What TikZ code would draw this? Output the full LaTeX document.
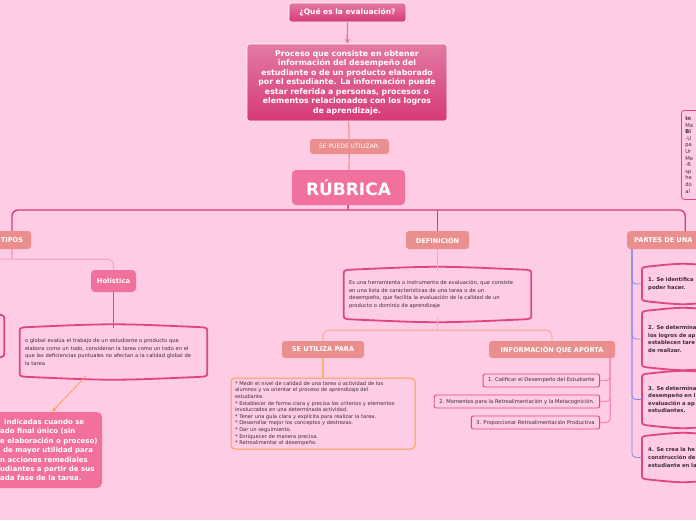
\documentclass[tikz,border=0pt]{standalone}
\usepackage{fontspec}
\setmainfont{DejaVu Sans}
\usetikzlibrary{arrows.meta,calc,positioning}

\definecolor{bgpink}{HTML}{FFCCE6}
\definecolor{hotpink}{HTML}{F2709E}
\definecolor{salmon}{HTML}{EA8E8E}
\definecolor{magline}{HTML}{E0457E}
\definecolor{darkmag}{HTML}{D63A78}
\definecolor{lightline}{HTML}{F4A6C6}
\definecolor{peach}{HTML}{F7AE9A}
\definecolor{orangeline}{HTML}{F5A24A}
\definecolor{blueline}{HTML}{7C86F2}
\definecolor{bodytext}{HTML}{3A2C36}

% frame with curved top and bottom round a node
\newcommand{\bulgeframe}[1]{%
  \draw[bulge] ($(#1.north west)+(0,4)$) .. controls (#1.north west) .. ($(#1.north west)+(4,-1)$)
    .. controls ($(#1.north)+(0,-5)$) .. ($(#1.north east)+(-4,-1)$)
    .. controls (#1.north east) .. ($(#1.north east)+(0,4)$)
    -- ($(#1.south east)+(0,-4)$)
    .. controls (#1.south east) .. ($(#1.south east)+(-4,1)$)
    .. controls ($(#1.south)+(0,5)$) .. ($(#1.south west)+(4,1)$)
    .. controls (#1.south west) .. ($(#1.south west)+(0,-4)$) -- cycle;}

\begin{document}
\begin{tikzpicture}[x=1pt,y=-1pt,
  lbl/.style={fill=salmon,rounded corners=3pt,text=white,inner sep=0pt,
    font=\bfseries\fontsize{6.6}{8}\selectfont},
  pinkbox/.style={fill=hotpink,rounded corners=4pt,text=white,inner sep=0pt},
  darkbox/.style={draw=white,line width=0.6pt,rounded corners=2.5pt,inner sep=0pt,
    top color=darkmag!68!white,bottom color=darkmag,text=white},
  bulgetxt/.style={text=bodytext,align=left,inner sep=0pt,
    font=\fontsize{5.2}{7.5}\selectfont},
  bulge/.style={draw=magline,line width=1.8pt,line join=round},
  itembox/.style={draw=magline,line width=0.9pt,rounded corners=2pt,text=bodytext,
    inner xsep=5pt,inner ysep=0pt,minimum height=13,font=\fontsize{5.2}{6}\selectfont},
  mainline/.style={darkmag,line width=1.4pt},
  thinline/.style={line width=1.1pt}]

\useasboundingbox (0,0) rectangle (696,520);
\fill[bgpink] (0,0) rectangle (696,520);
\clip (0,0) rectangle (696,520);

% top of the map
\node[darkbox,minimum width=117,minimum height=19,font=\bfseries\fontsize{7.5}{9}\selectfont]
  (q) at (347.5,12.5) {¿Qué es la evaluación?};
\node[darkbox,minimum width=200,minimum height=77,text width=194,align=center,
  font=\bfseries\fontsize{7.8}{9.5}\selectfont]
  (proc) at (347,82.5) {Proceso que consiste en obtener\\ información del desempeño del\\ estudiante o de un producto elaborado\\ por el estudiante. La información puede\\ estar referida a personas, procesos o\\ elementos relacionados con los logros\\ de aprendizaje.};
\node[lbl,minimum width=79,minimum height=15,font=\fontsize{6}{7}\selectfont]
  (use) at (349.5,146.5) {SE PUEDE UTILIZAR:};
\node[pinkbox,minimum width=113,minimum height=35,font=\bfseries\fontsize{17}{20}\selectfont]
  (rub) at (348.5,187.5) {RÚBRICA};

% branches
\node[lbl,minimum width=38,minimum height=18] (tipos) at (12,240) {TIPOS};
\node[lbl,minimum width=63,minimum height=18] (def) at (437.5,240) {DEFINICIÓN};
\node[lbl,minimum height=18,anchor=west,text width=102,align=left,inner xsep=7pt]
  (partes) at (627,240) {PARTES DE UNA};

% tipos
\node[pinkbox,minimum width=45,minimum height=22,font=\bfseries\fontsize{6.8}{8}\selectfont]
  (hol) at (113.5,281) {Holística};
\node[bulgetxt,minimum width=187,minimum height=47,text width=177]
  (holdesc) at (113.5,352) {o global evalúa el trabajo de un estudiante o producto que\\ elabora como un todo, consideran la tarea como un todo en el\\ que las deficiencias puntuales no afectan a la calidad global de\\ la tarea};
\node[bulgetxt,minimum width=88,minimum height=40] (lpart) at (-40,336) {};
\node[pinkbox,rounded corners=5pt,minimum width=162,minimum height=76] (blbox) at (21,450) {};
\node[anchor=west,text=white,align=left,inner sep=0pt,
  font=\bfseries\fontsize{7}{9.4}\selectfont]
  (bltext) at (0,450) {\hspace*{4pt}indicadas cuando se\\ado final único (sin\\e elaboración o proceso)\\\hspace*{3pt}de mayor utilidad para\\n acciones remediales\\udiantes a partir de sus\\ada fase de la tarea.};

% definicion
\node[bulgetxt,minimum width=187,minimum height=47,text width=177]
  (defdesc) at (437.5,294.5) {Es una herramienta o instrumento de evaluación, que consiste\\ en una lista de características de una tarea o de un\\ desempeño, que facilita la evaluación de la calidad de un\\ producto o dominio de aprendizaje};
\node[lbl,minimum width=82,minimum height=17] (usefor) at (323,349.5) {SE UTILIZA PARA};
\node[lbl,minimum width=126,minimum height=17] (info) at (552,349.5) {INFORMACIÓN QUE APORTA};
\node[draw=orangeline,line width=1pt,rounded corners=4pt,minimum width=184,minimum height=71,
  text width=176,align=left,inner sep=0pt,text=bodytext,font=\fontsize{5.1}{6.6}\selectfont]
  (list) at (323,413.5) {{*} Medir el nivel de calidad de una tarea o actividad de los\\ alumnos y va orientar el proceso de aprendizaje del\\ estudiante.\\ {*} Establecer de forma clara y precisa los criterios y elementos\\ involucrados en una determinada actividad.\\ {*} Tener una guía clara y explícita para realizar la tarea.\\ {*} Desarrollar mejor los conceptos y destrezas.\\ {*} Dar un seguimiento.\\ {*} Enriquecer de manera precisa.\\ {*} Retroalimentar el desempeño.};
\node[itembox,anchor=east] (i1) at (600,380.5) {1. Calificar el Desempeño del Estudiante};
\node[itembox,anchor=east] (i2) at (600,401.5) {2. Momentos para la Retroalimentación y la Metacognición.};
\node[itembox,anchor=east] (i3) at (600,422.5) {3. Proporcionar Retroalimentación Productiva};

% partes
\node[bulgetxt,anchor=west,minimum width=80,minimum height=32,text width=70,inner xsep=6pt,
  font=\bfseries\fontsize{5.3}{7.6}\selectfont] (p1) at (642,284) {1. Se identifica\\poder hacer.};
\node[bulgetxt,anchor=west,minimum width=80,minimum height=54,text width=70,inner xsep=6pt,
  font=\bfseries\fontsize{5.3}{7.6}\selectfont] (p2) at (642,339) {2. Se determina\\los logros de ap\\establecen tare\\de realizar.};
\node[bulgetxt,anchor=west,minimum width=80,minimum height=49,text width=70,inner xsep=6pt,
  font=\bfseries\fontsize{5.3}{7.6}\selectfont] (p3) at (642,399.5) {3. Se determina\\desempeño en l\\evaluación a ap\\estudiantes.};
\node[bulgetxt,anchor=west,minimum width=80,minimum height=41,text width=70,inner xsep=6pt,
  font=\bfseries\fontsize{5.3}{7.6}\selectfont] (p4) at (642,457.5) {4. Se crea la he\\construcción de\\estudiante en la};

% note at the right edge
\node[draw=magline,line width=0.8pt,rounded corners=3pt,anchor=north west,
  minimum width=40,minimum height=89,text width=32,align=left,inner xsep=4pt,inner ysep=4pt,
  text=bodytext,font=\fontsize{5.2}{6.6}\selectfont]
  (note) at (681,110) {\textbf{In}\\Ma\\\textbf{Bi}\\-U\\pa\\Ur\\Me\\-R\\sp\\he\\do\\al};

\foreach \n in {holdesc,defdesc,lpart,p1,p2,p3,p4} {\bulgeframe{\n}}

% connectors
\draw[-{Stealth[length=5pt,width=5pt]},hotpink,line width=1.2pt] (q) -- (proc);
\draw[salmon,thinline] (proc) -- (use);
\draw[salmon,thinline] (use) -- (rub);
\coordinate (hub) at (348,210);
\draw[mainline] (rub) -- (hub);
\draw[mainline,rounded corners=6] (tipos.north) |- (hub) -| (partes.north);
\draw[mainline] (def.north |- hub) -- (def.north);

\coordinate (tsplit) at ($(tipos.south)+(0,10)$);
\coordinate (tleft) at (-20,259);
\draw[lightline,thinline] (tipos) -- (tsplit);
\draw[lightline,thinline,rounded corners=6] (tleft) -- (tsplit) -| (hol.north);
\draw[magline,line width=1.4pt] (hol) -- (holdesc);
\draw[orangeline,line width=0.8pt,-{Latex[length=4pt,width=4pt]}] (holdesc.221) -- (blbox.51);

\draw[lightline,thinline] (def) -- (defdesc);
\coordinate (dsplit) at ($(defdesc.south)+(0,12)$);
\draw[peach,thinline] (defdesc) -- (dsplit);
\draw[peach,thinline,rounded corners=6] (usefor.north) |- (dsplit) -| (info.north);
\draw[orangeline!70!bgpink,thinline] (usefor) -- (list);
\coordinate (ibranch) at ($(info.south east)+(-5,0)$);
\foreach \n in {i1,i2,i3}
  \draw[hotpink!80!white,thinline,rounded corners=4] (ibranch) |- (\n.east);

\coordinate (pbranch) at ($(partes.south west)+(5,0)$);
\foreach \n in {p1,p2,p3,p4}
  \draw[blueline,line width=0.8pt,rounded corners=4] (pbranch) |- (\n.west);
\end{tikzpicture}
\end{document}
